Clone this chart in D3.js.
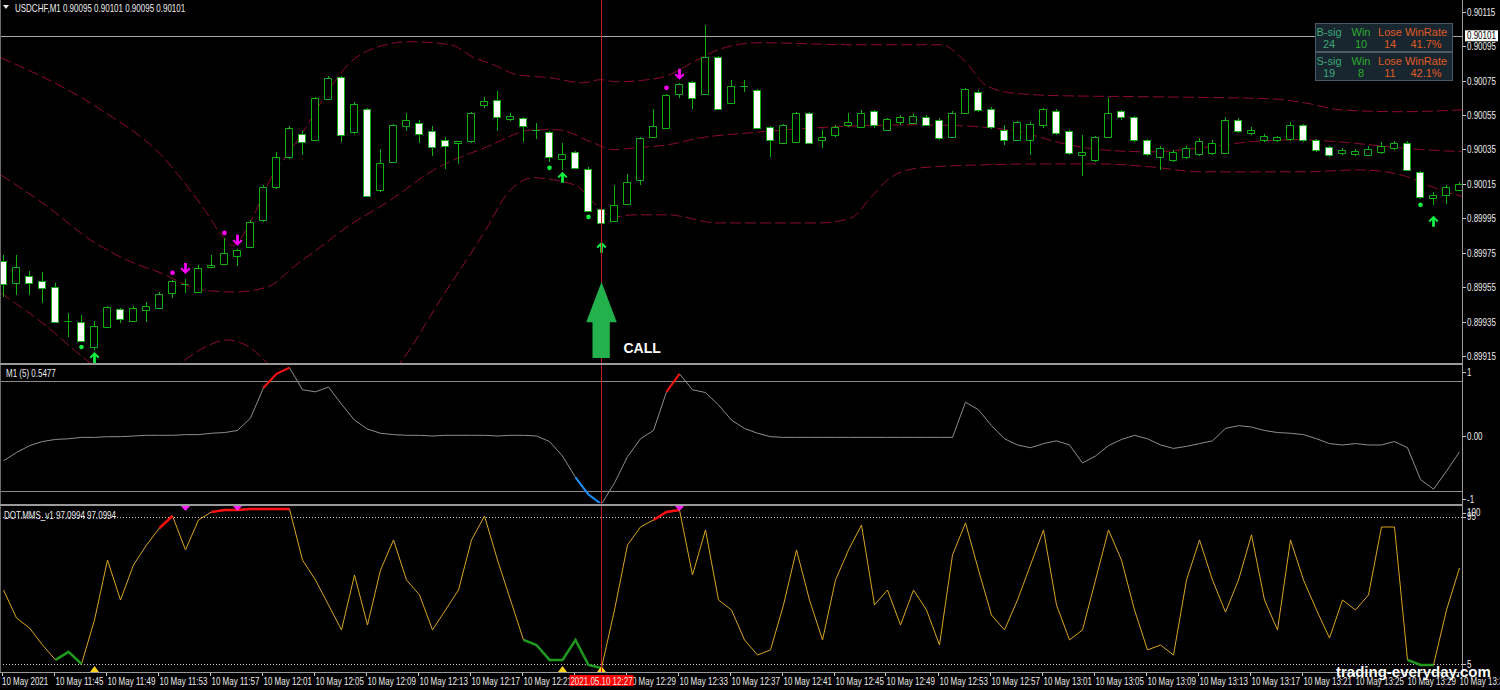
<!DOCTYPE html>
<html><head><meta charset="utf-8">
<script src="https://cdn.jsdelivr.net/npm/d3@7"></script>
<style>
html,body{margin:0;padding:0;background:#000;overflow:hidden;}
svg{display:block;}
.ax{font-family:"Liberation Sans",Arial,sans-serif;font-size:10px;fill:#ececec;}
.tb{font-family:"Liberation Sans",Arial,sans-serif;font-size:11px;}
</style></head><body>
<svg id="c" width="1500" height="690"></svg>
<script>
// ---------------- DATA ----------------
const symbolTitle = "USDCHF,M1  0.90095 0.90101 0.90095 0.90101";
const open = [0.899702,0.899574,0.899615,0.899586,0.899551,0.899353,0.899348,0.899202,0.899319,0.899423,
0.899353,0.899417,0.899429,0.899516,0.899569,0.899522,0.899667,0.899685,0.899731,0.899784,
0.899941,0.900133,0.900307,0.900441,0.900406,0.900644,0.900772,0.900452,0.900586,0.900115,
0.900278,0.900487,0.900505,0.900458,0.900406,0.900388,0.900400,0.900609,0.900638,0.900528,
0.900534,0.900464,0.900452,0.900295,0.900336,0.900237,0.900005,0.899935,0.900034,0.900173,
0.900423,0.900476,0.900673,0.900743,0.900673,0.900888,0.900621,0.900720,0.900697,0.900481,
0.900388,0.900394,0.900563,0.900406,0.900435,0.900493,0.900481,0.900574,0.900464,0.900510,
0.900505,0.900540,0.900522,0.900423,0.900563,0.900685,0.900586,0.900464,0.900406,0.900406,
0.900493,0.900574,0.900458,0.900319,0.900290,0.900423,0.900574,0.900540,0.900406,0.900307,
0.900290,0.900307,0.900324,0.900330,0.900330,0.900522,0.900447,0.900406,0.900406,0.900412,
0.900493,0.900406,0.900365,0.900330,0.900324,0.900319,0.900336,0.900359,0.900388,0.900220,
0.900069,0.900086,0.900115];
const high = [0.899737,0.899737,0.899644,0.899638,0.899574,0.899400,0.899388,0.899353,0.899441,0.899429,
0.899441,0.899464,0.899522,0.899592,0.899598,0.899679,0.899737,0.899836,0.899772,0.899941,
0.900144,0.900336,0.900487,0.900458,0.900656,0.900778,0.900778,0.900627,0.900592,0.900353,
0.900499,0.900563,0.900522,0.900487,0.900423,0.900400,0.900569,0.900656,0.900691,0.900563,
0.900540,0.900505,0.900458,0.900388,0.900342,0.900249,0.900010,0.900144,0.900208,0.900423,
0.900586,0.900673,0.900737,0.900749,0.901074,0.900894,0.900755,0.900755,0.900702,0.900487,
0.900499,0.900569,0.900569,0.900464,0.900493,0.900563,0.900580,0.900580,0.900534,0.900551,
0.900557,0.900551,0.900534,0.900574,0.900708,0.900697,0.900598,0.900493,0.900516,0.900510,
0.900592,0.900586,0.900464,0.900435,0.900429,0.900650,0.900580,0.900545,0.900412,0.900371,
0.900348,0.900371,0.900417,0.900406,0.900540,0.900534,0.900481,0.900441,0.900429,0.900510,
0.900499,0.900412,0.900371,0.900359,0.900353,0.900371,0.900394,0.900400,0.900400,0.900226,
0.900103,0.900144,0.900162];
const low = [0.899493,0.899505,0.899505,0.899458,0.899342,0.899260,0.899231,0.899185,0.899313,0.899342,
0.899348,0.899348,0.899423,0.899487,0.899516,0.899516,0.899662,0.899679,0.899673,0.899778,
0.899929,0.900121,0.900295,0.900319,0.900400,0.900638,0.900394,0.900441,0.900074,0.900103,
0.900272,0.900458,0.900388,0.900313,0.900237,0.900266,0.900388,0.900592,0.900458,0.900516,
0.900394,0.900412,0.900278,0.900231,0.900237,0.899987,0.899917,0.899929,0.900028,0.900144,
0.900417,0.900470,0.900650,0.900586,0.900667,0.900580,0.900615,0.900685,0.900470,0.900307,
0.900383,0.900388,0.900383,0.900359,0.900423,0.900481,0.900476,0.900476,0.900458,0.900493,
0.900499,0.900487,0.900406,0.900417,0.900557,0.900569,0.900470,0.900377,0.900400,0.900319,
0.900476,0.900435,0.900319,0.900197,0.900278,0.900417,0.900522,0.900394,0.900313,0.900231,
0.900278,0.900295,0.900313,0.900319,0.900324,0.900447,0.900435,0.900394,0.900394,0.900400,
0.900394,0.900336,0.900307,0.900319,0.900313,0.900313,0.900324,0.900348,0.900226,0.900063,
0.900028,0.900034,0.900109];
const close = [0.899569,0.899667,0.899574,0.899545,0.899348,0.899353,0.899237,0.899324,0.899435,0.899365,
0.899429,0.899441,0.899510,0.899586,0.899569,0.899662,0.899679,0.899749,0.899766,0.899929,
0.900133,0.900307,0.900476,0.900394,0.900650,0.900766,0.900435,0.900615,0.900080,0.900272,
0.900493,0.900522,0.900441,0.900365,0.900371,0.900400,0.900563,0.900633,0.900540,0.900545,
0.900487,0.900464,0.900307,0.900324,0.900243,0.899993,0.899923,0.900028,0.900162,0.900417,
0.900487,0.900667,0.900731,0.900650,0.900888,0.900586,0.900720,0.900720,0.900476,0.900406,
0.900493,0.900563,0.900388,0.900423,0.900481,0.900510,0.900563,0.900493,0.900528,0.900540,
0.900545,0.900493,0.900417,0.900563,0.900702,0.900580,0.900481,0.900406,0.900510,0.900499,
0.900586,0.900447,0.900330,0.900336,0.900423,0.900563,0.900540,0.900406,0.900324,0.900359,
0.900336,0.900359,0.900400,0.900388,0.900522,0.900458,0.900464,0.900429,0.900423,0.900493,
0.900406,0.900348,0.900319,0.900348,0.900342,0.900353,0.900371,0.900388,0.900231,0.900074,
0.900086,0.900133,0.900150];

// envelope bands: [bar index, price]
const upperBand = [[-0.2,0.900883],[7.5,0.900580],[12.1,0.900319],[15.2,0.900028],[17.1,0.899824],[17.6,0.899790],
[19.0,0.899929],[20.5,0.900173],[22.8,0.900423],[24.8,0.900667],[26.5,0.900842],[28.2,0.900929],[31.3,0.900976],
[34.4,0.900958],[36.2,0.900883],[37.7,0.900842],[39.5,0.900784],[42.1,0.900766],[44.6,0.900737],[45.9,0.900755],
[47.2,0.900743],[50.5,0.900766],[53.4,0.900871],[55.2,0.900935],[58.2,0.900970],[65.2,0.900958],[72.1,0.900958],
[74.0,0.900859],[75.5,0.900726],[77.5,0.900679],[81.3,0.900662],[88.2,0.900656],[97.5,0.900644],[100.5,0.900615],
[102.8,0.900580],[107.5,0.900569],[112.3,0.900580]];
const middleBand = [[-0.2,0.900202],[3.2,0.900028],[6.7,0.899824],[9.8,0.899697],[12.1,0.899633],[15.2,0.899534],
[17.7,0.899522],[20.3,0.899551],[22.5,0.899679],[24.4,0.899784],[26.2,0.899888],[29.8,0.900057],[33.1,0.900231],
[37.2,0.900365],[40.8,0.900464],[42.6,0.900464],[45.2,0.900394],[46.9,0.900348],[48.5,0.900359],[51.1,0.900377],
[53.6,0.900417],[57.5,0.900447],[61.3,0.900470],[65.9,0.900487],[70.5,0.900493],[75.2,0.900481],[78.2,0.900452],
[81.3,0.900388],[84.4,0.900348],[88.2,0.900336],[92.1,0.900359],[95.9,0.900394],[99.8,0.900406],[103.6,0.900388],
[107.4,0.900359],[112.3,0.900336]];
const lowerBand = [[-0.2,0.899516],[3.2,0.899330],[6.7,0.899109],[10.2,0.898952],[13.6,0.899109],[15.5,0.899202],
[17.2,0.899243],[19.0,0.899197],[20.3,0.899109],[25.2,0.898836],[30.5,0.899109],[33.6,0.899476],[37.1,0.899883],
[38.8,0.900098],[40.8,0.900185],[42.3,0.900173],[44.2,0.900133],[45.4,0.900040],[46.9,0.899958],[48.5,0.899970],
[51.1,0.899970],[54.9,0.899923],[57.5,0.899923],[62.8,0.899923],[65.2,0.899952],[66.7,0.900069],[68.2,0.900185],
[70.5,0.900243],[75.2,0.900260],[80.5,0.900266],[84.4,0.900266],[88.2,0.900249],[92.1,0.900220],[99.8,0.900220],
[104.4,0.900231],[107.5,0.900202],[110.5,0.900115],[112.3,0.900074]];

// signals: [bar index, price]
const buyDots = [[6,0.899202],[42,0.900243],[45,0.899958],[109,0.900028]];
const buyArrows = [[7,0.899173],[43,0.900220],[46,0.899813],[110,0.899964]];
const sellDots = [[13,0.899633],[17,0.899865],[51,0.900708]];
const sellArrows = [[14,0.899627],[18,0.899790],[52,0.900755]];
const bidPrice = 0.90101;
const cursorIndex = 46;
const callArrow = {index:46, tip:0.899580, base:0.899138, label:"CALL"};

// stats table
const statHeads = ["B-sig","Win","Lose","WinRate"];
const buyStats = ["24","10","14","41.7%"];
const sellHeads = ["S-sig","Win","Lose","WinRate"];
const sellStats = ["19","8","11","42.1%"];

// sub window 1 : M1 (5)
const sub1Title = "M1 (5) 0.5477";
const osc = [-0.36,-0.24,-0.14,-0.08,-0.05,-0.04,-0.02,-0.02,-0.01,-0.01,
0.00,0.01,0.01,0.01,0.02,0.02,0.04,0.05,0.08,0.26,
0.70,0.90,0.99,0.67,0.64,0.71,0.46,0.23,0.10,0.04,
0.02,0.01,0.01,0.00,0.01,0.01,0.01,0.01,0.00,0.01,
0.01,0.00,-0.08,-0.29,-0.60,-0.85,-0.99,-0.68,-0.30,-0.04,
0.08,0.64,0.90,0.67,0.63,0.45,0.23,0.11,0.04,-0.01,
-0.02,-0.02,-0.02,-0.02,-0.02,-0.02,-0.02,-0.02,-0.02,-0.02,
-0.02,-0.02,-0.02,-0.02,0.49,0.38,0.15,-0.04,-0.13,-0.17,
-0.11,-0.07,-0.13,-0.39,-0.29,-0.14,-0.05,0.01,-0.04,-0.13,
-0.18,-0.15,-0.11,-0.07,0.11,0.15,0.13,0.08,0.05,0.04,
0.02,-0.04,-0.11,-0.13,-0.11,-0.13,-0.13,-0.08,-0.17,-0.63,
-0.77,-0.51,-0.23];
const oscHighSegs = [[20,22],[51,52]];
const oscLowSegs = [[44,46]];
const oscLevels = [0.8,-0.8];
const oscTicks = [[1,"1"],[0,"0.00"],[-1,"-1"]];

// sub window 2 : DOT.MMS_v1
const sub2Title = "DOT.MMS_v1 97.0994 97.0994";
const dot = [50.2,33.1,27.0,16.6,7.5,12.4,5.0,31.9,68.5,44.1,
65.5,77.7,88.1,95.4,74.7,93.0,97.9,99.1,99.1,99.7,
99.7,99.7,99.7,68.5,56.3,41.1,25.8,59.4,28.8,62.4,
80.8,56.3,47.2,25.8,38.0,50.2,80.8,95.4,68.5,44.1,
19.7,16.6,7.5,7.5,19.7,4.4,2.6,38.0,77.7,88.7,
93.0,97.9,99.1,59.4,86.9,44.1,38.0,19.7,10.5,13.6,
41.1,74.7,44.1,19.7,56.3,74.7,89.9,41.1,50.2,28.8,
50.2,38.0,16.6,71.6,91.2,62.4,34.9,25.8,44.1,65.5,
86.9,41.1,19.7,25.8,56.3,86.9,68.5,38.0,13.6,16.6,
10.5,56.3,80.8,56.3,36.7,56.3,83.9,44.1,25.8,80.8,
56.3,38.0,20.9,44.1,38.0,47.2,88.7,88.7,7.5,4.4,
4.4,38.0,63.7];
const dotHighSegs = [[12,13],[16,22],[50,52]];
const dotLowSegs = [[4,6],[40,46],[108,110]];
const dotLevels = [95,5];
const dotTopMarks = [14,18,52];
const dotBottomMarks = [7,43,46];
const dotTicks = [[100,"100"],[95,"95"],[5,"5"]];

// axes
const priceTicks = [0.90115,0.90095,0.90075,0.90055,0.90035,0.90015,0.89995,0.89975,0.89955,0.89935,0.89915];
const timeTickIdx = [0,4,8,12,16,20,24,28,32,36,40,44,48,52,56,60,64,68,72,76,80,84,88,92,96,100,104,108,112];
const timeTickLabels = ["10 May 2021","10 May 11:45","10 May 11:49","10 May 11:53","10 May 11:57","10 May 12:01",
"10 May 12:05","10 May 12:09","10 May 12:13","10 May 12:17","10 May 12:21","10 May 12:25","10 May 12:29",
"10 May 12:33","10 May 12:37","10 May 12:41","10 May 12:45","10 May 12:49","10 May 12:53","10 May 12:57",
"10 May 13:01","10 May 13:05","10 May 13:09","10 May 13:13","10 May 13:17","10 May 13:21","10 May 13:25",
"10 May 13:29","10 May 13:33"];
const cursorTimeLabel = "2021.05.10 12:27";
const watermark = "trading-everyday.com";

// ---------------- LAYOUT ----------------
const W=1500,H=690,plotR=1462;
const mainTop=1, mainBot=363, s1Top=366, s1Bot=503, s2Top=506, s2Bot=672;
const svg=d3.select("#c");
svg.append("rect").attr("width",W).attr("height",H).attr("fill","#000");
const defs=svg.append("defs");
function clip(id,x0,y0,w,h){defs.append("clipPath").attr("id",id).append("rect").attr("x",x0).attr("y",y0).attr("width",w).attr("height",h);}
clip("cMain",1,mainTop,plotR-1,mainBot-mainTop);
clip("cS1",1,s1Top,plotR-1,s1Bot-s1Top);
clip("cS2",1,s2Top,plotR-1,s2Bot-s2Top);

const x=d3.scaleLinear().domain([0,112]).range([3.5,1459.5]);
const yP=d3.scaleLinear().domain([0.89915,0.90115]).range([356,11.7]);
const y1=d3.scaleLinear().domain([-1,1]).range([505,367]);
const y2=d3.scaleLinear().domain([0,100]).range([672.2,508.5]);

// narrow axis-text helper (Tahoma-like condensed look)
const NARROW=0.8;
function axText(parent,tx,ty,str,anchor){
  return parent.append("text").attr("class","ax")
    .attr("transform",`translate(${tx},${ty}) scale(${NARROW},1)`)
    .attr("text-anchor",anchor||"start").text(str);
}

const gMain=svg.append("g").attr("clip-path","url(#cMain)");
const gS1=svg.append("g").attr("clip-path","url(#cS1)");
const gS2=svg.append("g").attr("clip-path","url(#cS2)");

// bands
const bandLine=d3.line().x(d=>x(d[0])).y(d=>yP(d[1])).curve(d3.curveMonotoneX);
[upperBand,middleBand,lowerBand].forEach(b=>{
  gMain.append("path").attr("d",bandLine(b)).attr("fill","none").attr("stroke","#8c0b2c")
    .attr("stroke-width",1).attr("stroke-dasharray","11,4");
});

// candles
const candleGreen="#10b010";
const candles=d3.range(open.length).map(i=>({i,o:open[i],h:high[i],l:low[i],c:close[i]}));
gMain.selectAll(".wick").data(candles).join("line").attr("class","wick")
  .attr("x1",d=>x(d.i)).attr("x2",d=>x(d.i))
  .attr("y1",d=>yP(d.h)).attr("y2",d=>yP(d.l))
  .attr("stroke",candleGreen).attr("stroke-width",1).attr("shape-rendering","crispEdges");
gMain.selectAll(".body").data(candles).join("path").attr("class","body")
  .attr("d",d=>{
    const t=Math.round(yP(Math.max(d.o,d.c)))+0.5, b=Math.round(yP(Math.min(d.o,d.c)))+0.5;
    const xl=x(d.i)-4, w=7;
    return `M${xl},${t}h${w}v${b-t}h${-w}Z`;
  })
  .attr("fill",d=>d.c<d.o?"#ffffff":"#000000")
  .attr("stroke",candleGreen).attr("stroke-width",1);

// signals
const sigGreen="#12f040", sigMag="#ff00ff";
gMain.selectAll(".bd").data(buyDots).join("circle").attr("cx",d=>x(d[0])).attr("cy",d=>yP(d[1])).attr("r",2.3).attr("fill",sigGreen);
gMain.selectAll(".sd").data(sellDots).join("circle").attr("cx",d=>x(d[0])).attr("cy",d=>yP(d[1])).attr("r",2.3).attr("fill",sigMag);
function upArrow(cx,t){return `M${cx},${t} L${cx+5},${t+5} L${cx+3.5},${t+6.3} L${cx+1.4},${t+4.2} L${cx+1.4},${t+11} L${cx-1.4},${t+11} L${cx-1.4},${t+4.2} L${cx-3.5},${t+6.3} L${cx-5},${t+5} Z`;}
function downArrow(cx,t){return `M${cx},${t} L${cx+5},${t-5} L${cx+3.5},${t-6.3} L${cx+1.4},${t-4.2} L${cx+1.4},${t-11} L${cx-1.4},${t-11} L${cx-1.4},${t-4.2} L${cx-3.5},${t-6.3} L${cx-5},${t-5} Z`;}
gMain.selectAll(".ba").data(buyArrows).join("path").attr("d",d=>upArrow(x(d[0]),yP(d[1]))).attr("fill",sigGreen);
gMain.selectAll(".sa").data(sellArrows).join("path").attr("d",d=>downArrow(x(d[0]),yP(d[1]))).attr("fill",sigMag);

// bid line
gMain.append("line").attr("x1",0).attr("x2",plotR).attr("y1",Math.round(yP(bidPrice))+0.5).attr("y2",Math.round(yP(bidPrice))+0.5)
  .attr("stroke","#a8a8a8").attr("stroke-width",1);

// sub window 1
gS1.selectAll(".lv").data(oscLevels).join("line").attr("x1",0).attr("x2",plotR)
  .attr("y1",d=>Math.round(y1(d))+0.5).attr("y2",d=>Math.round(y1(d))+0.5).attr("stroke","#8a8a8a").attr("stroke-width",1);
const l1=d3.line().x((d,i)=>x(i)).y(d=>y1(Math.max(-1,Math.min(1,d))));
gS1.append("path").attr("d",l1(osc)).attr("fill","none").attr("stroke","#8e8e8e").attr("stroke-width",1);
const segLine1=d3.line().x(d=>x(d)).y(d=>y1(Math.max(-1,Math.min(1,osc[d]))));
oscHighSegs.forEach(s=>gS1.append("path").attr("d",segLine1(d3.range(s[0],s[1]+1))).attr("fill","none").attr("stroke","#ff1010").attr("stroke-width",2));
oscLowSegs.forEach(s=>gS1.append("path").attr("d",segLine1(d3.range(s[0],s[1]+1))).attr("fill","none").attr("stroke","#1e8fff").attr("stroke-width",2));

// sub window 2
gS2.selectAll(".lv2").data(dotLevels).join("line").attr("x1",0).attr("x2",plotR)
  .attr("y1",d=>Math.round(y2(d))+0.5).attr("y2",d=>Math.round(y2(d))+0.5).attr("stroke","#c8c8c8").attr("stroke-width",1).attr("stroke-dasharray","1,2");
const l2=d3.line().x((d,i)=>x(i)).y(d=>y2(d));
gS2.append("path").attr("d",l2(dot)).attr("fill","none").attr("stroke","#d9a520").attr("stroke-width",1);
const segLine2=d3.line().x(d=>x(d)).y(d=>y2(dot[d]));
dotHighSegs.forEach(s=>gS2.append("path").attr("d",segLine2(d3.range(s[0],s[1]+1))).attr("fill","none").attr("stroke","#ff1010").attr("stroke-width",2.5));
dotLowSegs.forEach(s=>gS2.append("path").attr("d",segLine2(d3.range(s[0],s[1]+1))).attr("fill","none").attr("stroke","#1f9a1f").attr("stroke-width",2.5));
gS2.selectAll(".tm").data(dotTopMarks).join("path").attr("d",d=>`M${x(d)-4.5},${s2Top} L${x(d)+4.5},${s2Top} L${x(d)},${s2Top+5} Z`).attr("fill","#ff22ff");
gS2.selectAll(".bm").data(dotBottomMarks).join("path").attr("d",d=>`M${x(d)-4.5},${s2Bot} L${x(d)+4.5},${s2Bot} L${x(d)},${s2Bot-6} Z`).attr("fill","#ffd21e");

// cursor line
{
  const cx=Math.floor(x(cursorIndex))+0.5;
  svg.append("line").attr("x1",cx).attr("x2",cx).attr("y1",0).attr("y2",s2Bot)
    .style("stroke","#c01a1a").style("stroke-width","1px").attr("shape-rendering","crispEdges");
}

// CALL arrow
{
  const cx=x(callArrow.index), t=yP(callArrow.tip), b=yP(callArrow.base);
  const hb=t+(b-t)*0.53;
  svg.append("path").attr("d",`M${cx},${t} L${cx+15.3},${hb} L${cx+8.3},${hb} L${cx+8.3},${b} L${cx-9},${b} L${cx-9},${hb} L${cx-15.3},${hb} Z`)
    .attr("fill","#22b14c");
  svg.append("text").attr("x",cx+22).attr("y",b-5).text(callArrow.label)
    .attr("fill","#ffffff").attr("font-family","Liberation Sans, Arial, sans-serif").attr("font-weight","bold").attr("font-size","14px");
}

// frames
const frame="#9a9a9a";
svg.append("rect").attr("x",0).attr("y",0).attr("width",1).attr("height",s2Bot).attr("fill","#6a6a6a");
svg.append("rect").attr("x",0).attr("y",mainBot).attr("width",plotR+1).attr("height",2).attr("fill",frame);
svg.append("rect").attr("x",0).attr("y",s1Bot+1).attr("width",plotR+1).attr("height",2).attr("fill",frame);
svg.append("rect").attr("x",0).attr("y",s2Bot).attr("width",plotR+1).attr("height",1).attr("fill",frame);
svg.append("rect").attr("x",plotR).attr("y",0).attr("width",1).attr("height",s2Bot+1).attr("fill",frame);

// stats table
{
  const tx=1315, cols=[1329,1361,1390,1426];
  const rows=[{y:23,h:statHeads,v:buyStats},{y:52,h:sellHeads,v:sellStats}];
  const colors=["#3ea877","#2eaa2e","#e05a24","#e05a24"];
  rows.forEach(r=>{
    svg.append("rect").attr("x",tx+0.5).attr("y",r.y+0.5).attr("width",137).attr("height",28)
      .attr("fill","#17262f").attr("stroke","#4b5a64");
    r.h.forEach((t,k)=>svg.append("text").attr("class","tb").attr("x",cols[k]).attr("y",r.y+12.5).attr("text-anchor","middle").attr("fill",colors[k]).text(t));
    r.v.forEach((t,k)=>svg.append("text").attr("class","tb").attr("x",cols[k]).attr("y",r.y+24.5).attr("text-anchor","middle").attr("fill",colors[k]).text(t));
  });
}

// header / sub-window titles
svg.append("path").attr("d","M3,5 L9,5 L6,9 Z").attr("fill","#e8e8e8");
axText(svg,15,11.5,symbolTitle);
axText(svg,6,376.5,sub1Title);
axText(svg,4,518.5,sub2Title);

// price axis
const pa=svg.append("g");
priceTicks.forEach(v=>{
  const yy=Math.round(yP(v))+0.5;
  pa.append("line").attr("x1",plotR+1).attr("x2",plotR+4).attr("y1",yy).attr("y2",yy).attr("stroke","#c8c8c8");
  axText(pa,1467,yy+3.5,v.toFixed(5));
});
{
  const yy=yP(bidPrice);
  pa.append("rect").attr("x",1465).attr("y",yy-5.5).attr("width",33).attr("height",11).attr("fill","#ffffff");
  axText(pa,1467,yy+3.5,bidPrice.toFixed(5)).style("fill","#000");
}
oscTicks.forEach(([v,t])=>{
  const yy=Math.min(Math.max(y1(v),372),499);
  pa.append("line").attr("x1",plotR+1).attr("x2",plotR+4).attr("y1",Math.round(yy)+0.5).attr("y2",Math.round(yy)+0.5).attr("stroke","#c8c8c8");
  axText(pa,1467,yy+3.5,t);
});
dotTicks.forEach(([v,t])=>{
  const yy=Math.min(Math.max(y2(v),512.7),668);
  pa.append("line").attr("x1",plotR+1).attr("x2",plotR+4).attr("y1",Math.round(yy)+0.5).attr("y2",Math.round(yy)+0.5).attr("stroke","#c8c8c8");
  axText(pa,1467,yy+3.5,t);
});

// time axis (labels fully hidden under the cursor time box are not drawn)
const ta=svg.append("g");
const cbx=Math.floor(x(cursorIndex))+0.5, boxL=cbx-32, boxR=cbx+32;
timeTickIdx.forEach((idx,k)=>{
  const xx=Math.round(x(idx))-1.5;
  ta.append("line").attr("x1",xx).attr("x2",xx).attr("y1",s2Bot+1).attr("y2",s2Bot+4).attr("stroke","#c8c8c8");
  const lx=k===0?2:xx+1;
  if(lx>=boxL && lx+48<=boxR) return;
  axText(ta,lx,684.5,timeTickLabels[k]);
});
ta.append("rect").attr("x",boxL).attr("y",675).attr("width",64).attr("height",11).attr("fill","#ff0000");
axText(ta,cbx,684.5,cursorTimeLabel,"middle");

// watermark
svg.append("text").attr("x",1336).attr("y",677).text(watermark)
  .attr("fill","#ffffff").attr("font-family","Liberation Sans, Arial, sans-serif").attr("font-weight","bold").attr("font-size","15px");
</script>
</body></html>
